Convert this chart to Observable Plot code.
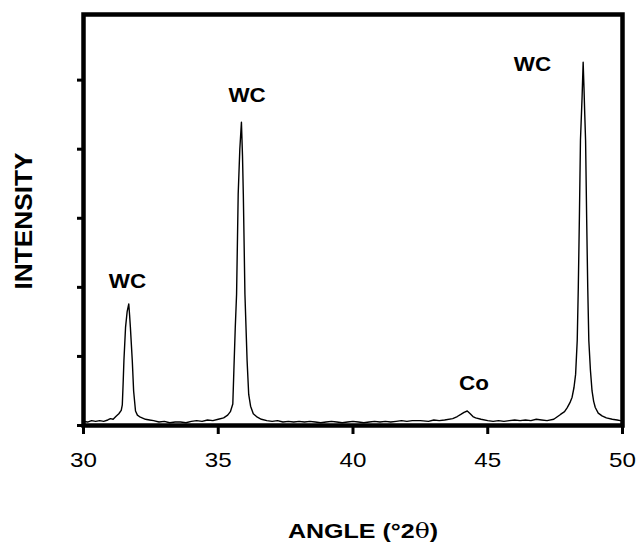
<!DOCTYPE html>
<html>
<head>
<meta charset="utf-8">
<script src="https://cdn.jsdelivr.net/npm/d3@7"></script>
<script src="https://cdn.jsdelivr.net/npm/@observablehq/plot@0.6"></script>
<style>
  html, body { margin: 0; padding: 0; background: white; }
  #chart { width: 640px; height: 548px; }
</style>
</head>
<body>
<div id="chart"></div>
<script>
// ---- Data (angle in °2θ, intensity in arbitrary units) ----
const angle = [
  30.0, 30.15, 30.3, 30.45, 30.6, 30.75, 30.9, 31.0, 31.1, 31.2, 31.31, 31.4, 31.44, 31.47, 31.5,
  31.56, 31.62, 31.68, 31.71, 31.74, 31.81, 31.86, 31.93, 32.0, 32.11, 32.3, 32.45, 32.6, 32.8,
  33.0, 33.2, 33.4, 33.6, 33.8, 34.0, 34.2, 34.4, 34.6, 34.8, 35.0, 35.2, 35.35, 35.45, 35.54,
  35.58, 35.63, 35.68, 35.74, 35.8, 35.86, 35.9, 35.93, 35.99, 36.07, 36.13, 36.2, 36.3, 36.45,
  36.6, 36.8, 37.0, 37.2, 37.4, 37.6, 37.8, 38.0, 38.2, 38.4, 38.6, 38.8, 39.0, 39.2, 39.4, 39.6,
  39.8, 40.0, 40.2, 40.4, 40.6, 40.8, 41.0, 41.2, 41.4, 41.6, 41.8, 42.0, 42.2, 42.5, 42.8, 43.0,
  43.2, 43.4, 43.7, 43.87, 44.0, 44.12, 44.24, 44.35, 44.45, 44.55, 44.75, 45.0, 45.2, 45.4, 45.6,
  45.8, 46.0, 46.2, 46.4, 46.6, 46.8, 47.0, 47.2, 47.45, 47.7, 47.85, 47.95, 48.05, 48.13, 48.2,
  48.26, 48.32, 48.36, 48.4, 48.44, 48.5, 48.54, 48.57, 48.6, 48.63, 48.67, 48.71, 48.75, 48.81,
  48.87, 48.93, 48.99, 49.1, 49.24, 49.4, 49.62, 49.8, 49.92, 50.0
];
const intensity = [
  0.06, 0.05, 0.07, 0.06, 0.07, 0.06, 0.08, 0.10, 0.09, 0.13, 0.17, 0.22, 0.30, 0.60, 0.94,
  1.42, 1.65, 1.76, 1.60, 1.42, 0.94, 0.50, 0.21, 0.15, 0.12, 0.09, 0.08, 0.07, 0.05,
  0.06, 0.04, 0.05, 0.05, 0.04, 0.06, 0.07, 0.06, 0.08, 0.07, 0.09, 0.11, 0.15, 0.20, 0.31,
  0.80, 1.40, 1.90, 3.35, 4.00, 4.39, 3.90, 3.35, 1.90, 0.94, 0.45, 0.28, 0.17, 0.12,
  0.09, 0.07, 0.06, 0.07, 0.05, 0.06, 0.05, 0.06, 0.05, 0.06, 0.05, 0.04, 0.05, 0.06, 0.05, 0.04,
  0.05, 0.06, 0.05, 0.04, 0.05, 0.06, 0.05, 0.06, 0.05, 0.06, 0.07, 0.06, 0.07, 0.07, 0.06, 0.08,
  0.07, 0.08, 0.10, 0.13, 0.16, 0.19, 0.21, 0.17, 0.13, 0.11, 0.09, 0.07, 0.06, 0.07, 0.06,
  0.07, 0.08, 0.07, 0.08, 0.07, 0.09, 0.08, 0.07, 0.09, 0.16, 0.20, 0.26, 0.33, 0.41, 0.55,
  0.74, 1.23, 2.00, 3.00, 4.13, 4.75, 5.26, 4.90, 4.50, 4.13, 3.00, 2.00, 1.23, 0.80,
  0.50, 0.35, 0.26, 0.18, 0.14, 0.11, 0.09, 0.08, 0.07, 0.07
];

const xTicks = [30, 35, 40, 45, 50];
const yTicks = [0, 1, 2, 3, 4, 5];

const peakLabels = ["WC", "WC", "Co", "WC"];
const peakLabelX = [31.63, 36.07, 44.49, 46.66];
const peakLabelY = [2.08, 4.78, 0.60, 5.22];

const xTitle = "ANGLE (°2";
const xTitleSymbol = "θ";
const xTitleEnd = ")";
const yTitle = "INTENSITY";

// ---- Build tables ----
const pattern = angle.map((a, i) => ({angle: a, intensity: intensity[i]}));
const labels = peakLabels.map((t, i) => ({text: t, x: peakLabelX[i], y: peakLabelY[i]}));

const font = "'Liberation Sans', Arial, Helvetica, sans-serif";

const plot = Plot.plot({
  width: 640,
  height: 548,
  marginLeft: 83,
  marginRight: 18,
  marginTop: 14,
  marginBottom: 123,
  style: {fontFamily: font, background: "white", color: "black"},
  x: {domain: [30, 50]},
  y: {domain: [0, 5.95]},
  marks: [
    Plot.axisX({ticks: xTicks, tickSize: 9, tickPadding: 18, fontSize: 21, strokeWidth: 3, label: null, tickFormat: d => String(d)}),
    Plot.axisY({ticks: yTicks, tickSize: 6, strokeWidth: 3, label: null, tickFormat: () => ""}),
    Plot.line(pattern, {x: "angle", y: "intensity", stroke: "black", strokeWidth: 1.4}),
    Plot.text(labels, {x: "x", y: "y", text: "text", fontSize: 20, fontWeight: "bold", fill: "black", lineAnchor: "middle"}),
    Plot.frame({stroke: "black", strokeWidth: 4.5})
  ]
});

document.getElementById("chart").appendChild(plot);

// Widen glyphs like the (horizontally stretched) reference
function stretch(nodes, k) {
  nodes.forEach(el => {
    const w = el.getComputedTextLength();
    if (w > 0) {
      el.setAttribute("textLength", (w * k).toFixed(1));
      el.setAttribute("lengthAdjust", "spacingAndGlyphs");
    }
  });
}
stretch(plot.querySelectorAll('g[aria-label="x-axis tick label"] text'), 1.15);
stretch(plot.querySelectorAll('g[aria-label="text"] text'), 1.12);

const svg = d3.select(plot);
// X axis title
const xt = svg.append("text")
  .attr("x", 363)
  .attr("y", 538)
  .attr("text-anchor", "middle")
  .attr("font-family", font)
  .attr("font-size", 20)
  .attr("font-weight", "bold")
  .attr("fill", "black");
xt.append("tspan").text(xTitle);
xt.append("tspan").attr("font-family", "'DejaVu Serif', 'Liberation Serif', serif").attr("font-weight", "normal").text(xTitleSymbol);
xt.append("tspan").text(xTitleEnd);
stretch([xt.node()], 1.25);

// Y axis title
const yt = svg.append("text")
  .attr("transform", "translate(32,221) rotate(-90)")
  .attr("text-anchor", "middle")
  .attr("font-family", font)
  .attr("font-size", 23)
  .attr("font-weight", "bold")
  .attr("fill", "black")
  .text(yTitle);
stretch([yt.node()], 1.14);
</script>
</body>
</html>
